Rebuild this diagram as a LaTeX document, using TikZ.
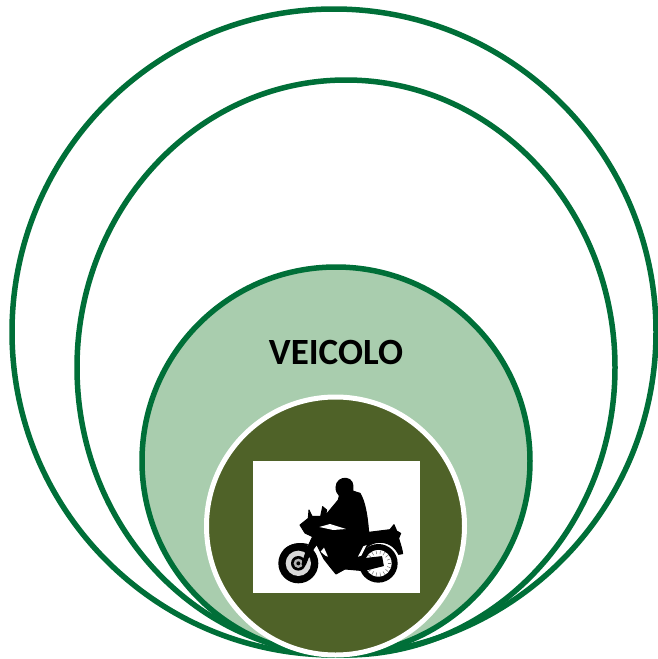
\documentclass[tikz,border=0pt]{standalone}
\usepackage{fontspec}
\setmainfont{Carlito}
\definecolor{cring}{HTML}{006F38}
\definecolor{lightring}{HTML}{A9CDAE}
\definecolor{colive}{HTML}{4F6228}
\tikzset{
  ringline/.style={draw=cring, line width=5.5pt},
  bikeblack/.style={fill=black, draw=black, line width=1pt, line join=round},
  bikewhite/.style={fill=white, draw=none},
}
\begin{document}
\begin{tikzpicture}[x=1pt, y=-1pt]
  \useasboundingbox (0,0) rectangle (658,659);
  % Rings, all touching at the bottom
  \draw[ringline] (334,332) ellipse [x radius=322, y radius=323];
  \draw[ringline] (346,367.5) ellipse [x radius=269, y radius=287.5];
  \fill[lightring, ringline] (336,461) circle [radius=194];
  \fill[colive, draw=white, line width=5pt] (335.5,526) circle [radius=129];
  \node[font=\bfseries\fontsize{37}{37}\selectfont, text=black] (veicolo) at (336,352) {VEICOLO};
  % Picture box
  \fill[white] (253,461) rectangle (420,593);
  % Motorcycle, traced in zoom units
  \begin{scope}[shift={(250,455)}, x=0.3333pt, y=-0.3333pt]
    % Front wheel
    \fill[black] (145,325) circle [radius=60];
    \fill[white!85!black] (145,325) circle [radius=38];
    \fill[black] (145,325) circle [radius=22];
    \fill[white!70!black] (145,325) circle [radius=14];
    \fill[black] (145,325) circle [radius=6];
    % Rear wheel
    \fill[black] (385,325) circle [radius=58];
    \fill[white] (385,325) circle [radius=40];
    \foreach \a in {0,20,...,340}{
      \draw[black!55, line width=0.5pt] (385,325) ++(\a:28) -- ++(\a:11);
    }
    % Rider and frame
    \path[bikeblack] (258,97) .. controls (258,78) and (275,68) .. (288,70)
      .. controls (305,72) and (312,85) .. (308,108)
      -- (330,115) .. controls (345,140) and (352,180) .. (356,232)
      -- (420,224) -- (432,209) -- (440,228) -- (452,235) -- (446,250)
      .. controls (450,265) and (456,280) .. (458,296) -- (446,298)
      .. controls (435,275) and (415,262) .. (390,262)
      .. controls (360,262) and (340,280) .. (332,312)
      -- (395,305) -- (400,332) -- (340,347) -- (285,342) -- (258,357)
      -- (240,335) -- (222,312) -- (200,268) -- (178,300) -- (166,330)
      -- (156,328) -- (172,278) -- (188,245) -- (165,234) -- (150,210)
      -- (175,190) -- (177,165) -- (186,184) -- (212,184) -- (218,155)
      -- (230,165) -- (226,182) -- (240,165) -- (265,135) -- (268,122)
      .. controls (262,115) and (258,108) .. (258,97) -- cycle;
    % Front fender
    \path[bikeblack] (102,285) .. controls (120,268) and (145,262) .. (172,268)
      -- (168,282) .. controls (145,272) and (120,278) .. (102,285) -- cycle;
    % Gaps in the silhouette
    \path[bikewhite] (208,216) -- (240,207) -- (288,222) -- (250,225) -- cycle;
    \path[bikewhite] (212,290) -- (222,278) -- (234,305) -- (226,302) -- cycle;
    \path[bikewhite] (324,305) -- (340,274) -- (350,270) -- (334,302) -- cycle;
  \end{scope}
\end{tikzpicture}
\end{document}
